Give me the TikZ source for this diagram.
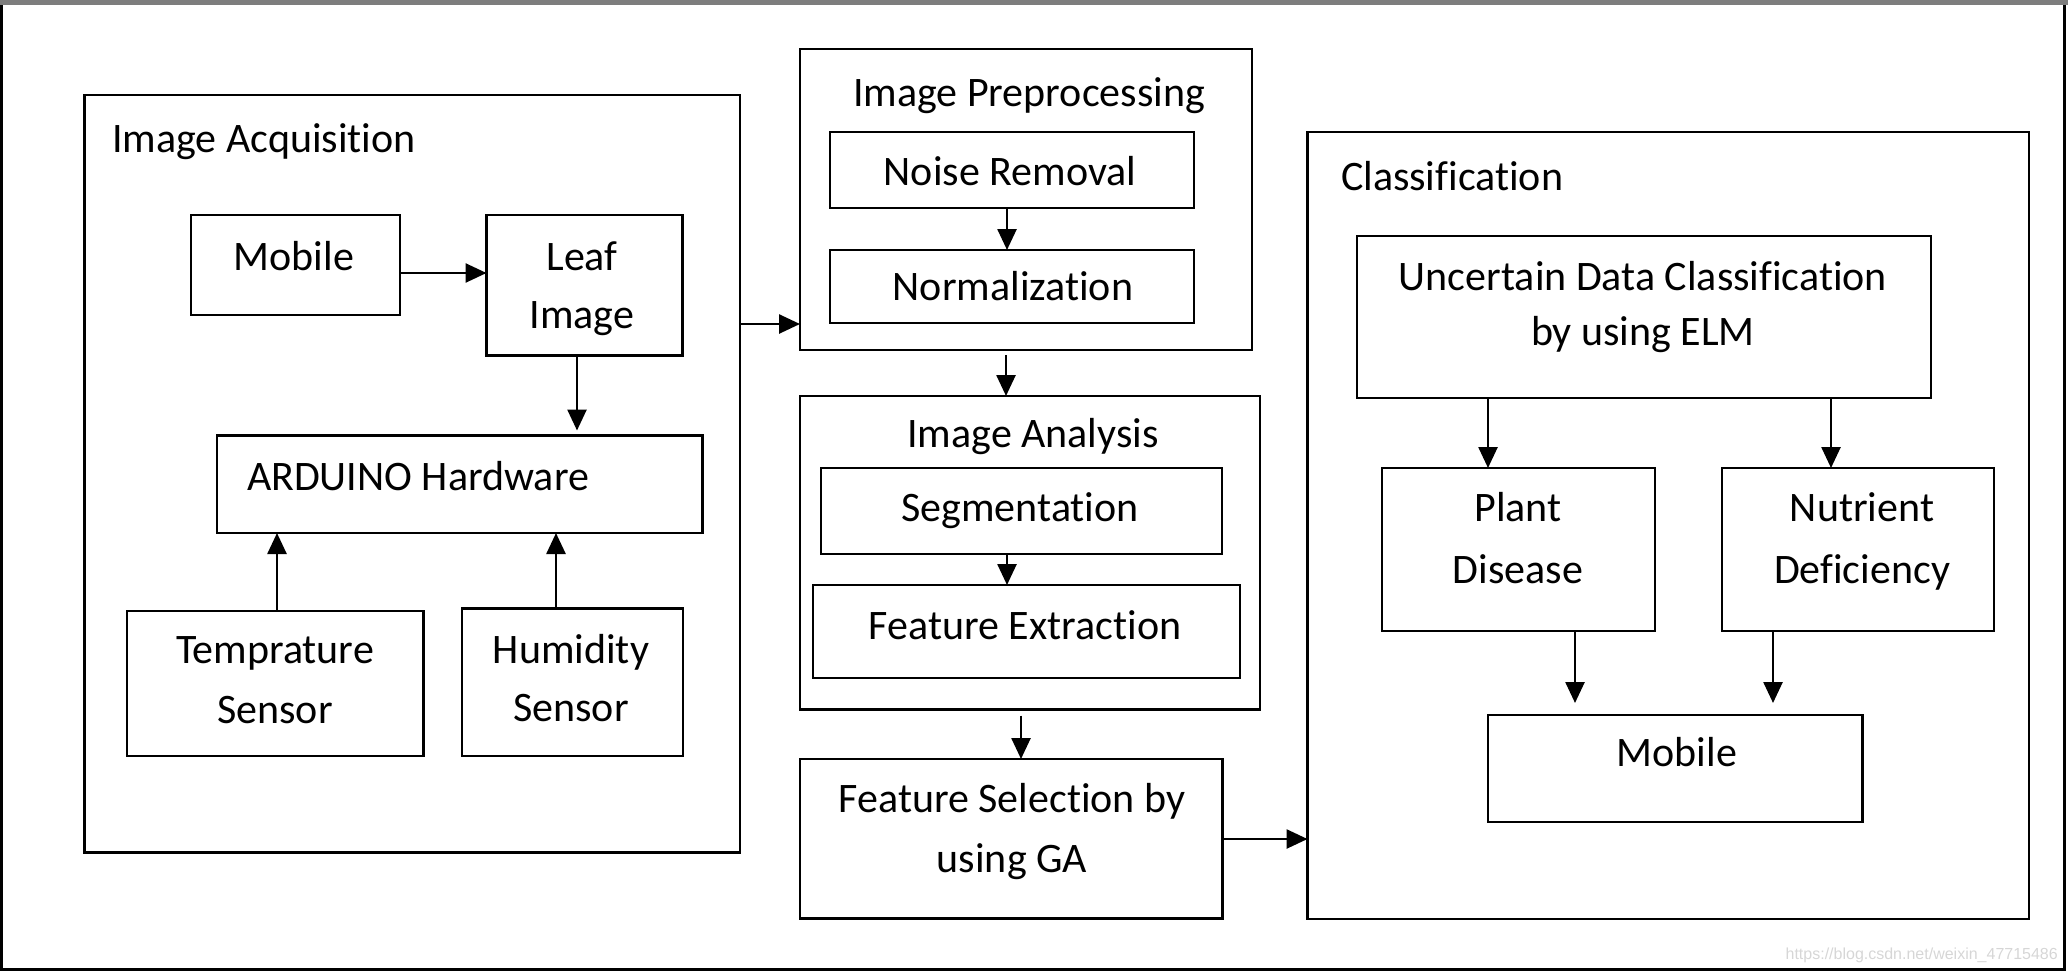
\documentclass[tikz,border=0pt]{standalone}
\usepackage{fontspec}
\setmainfont{Carlito}[Ligatures=NoCommon]
\newfontfamily\wmfont{Liberation Sans}
\usetikzlibrary{arrows.meta,fit}
\definecolor{topgray}{RGB}{125,125,125}
\definecolor{wmgray}{RGB}{214,214,214}
\begin{document}
\begin{tikzpicture}[x=1pt,y=-1pt,
  box/.style={draw=black, line width=2.7pt, inner sep=0pt, outer sep=0pt},
  lbl/.style={inner sep=0pt, outer sep=0pt, anchor=base, font=\fontsize{42pt}{50pt}\selectfont},
  ttl/.style={lbl, anchor=base west},
  arr/.style={line width=2.6pt, -{Triangle[length=21pt,width=19pt]}}]
\useasboundingbox (0,0) rectangle (2068,972);
% outer frame
\fill[topgray] (0,0) rectangle (2068,5);
\draw[line width=3pt] (1.5,5) -- (1.5,969.5) -- (2064,969.5) -- (2064,5);

% Image Acquisition
\node[box, fit={(84.5,95) (740,852.5)}] (acq) {};
\node[box, fit={(191,215) (400,315)}] (mob1) {};
\node[box, fit={(486.5,215) (682.5,355.5)}] (leaf) {};
\node[box, fit={(217,435.5) (702.5,533)}] (ard) {};
\node[box, fit={(127,611) (423.5,756)}] (temp) {};
\node[box, fit={(462,608.5) (683,756)}] (hum) {};

% Preprocessing / analysis / selection
\node[box, fit={(800,49) (1252,350)}] (pre) {};
\node[box, fit={(830,132) (1194,208)}] (noise) {};
\node[box, fit={(830,250) (1194,323)}] (norm) {};
\node[box, fit={(800,396) (1260,709.5)}] (ana) {};
\node[box, fit={(821,468) (1222,554)}] (seg) {};
\node[box, fit={(813,585) (1240,678)}] (fext) {};
\node[box, fit={(800,759) (1222.5,918.5)}] (fsel) {};

% Classification
\node[box, fit={(1307.5,132) (2029,919)}] (cls) {};
\node[box, fit={(1357,236) (1931,398)}] (unc) {};
\node[box, fit={(1382,468) (1655,631)}] (plant) {};
\node[box, fit={(1722,468) (1994,631)}] (nutr) {};
\node[box, fit={(1488,715) (1862.5,822)}] (mob2) {};

% labels
\node[ttl] (tAcq) at (112,152) {Image Acquisition};
\node[lbl] (tMob1) at (294,270) {Mobile};
\node[lbl] (tLeafA) at (582,270) {Leaf};
\node[lbl] (tLeafB) at (582,328) {Image};
\node[ttl] (tArd) at (247,490) {ARDUINO Hardware};
\node[lbl] (tTempA) at (275,663) {Temprature};
\node[lbl] (tTempB) at (275,723) {Sensor};
\node[lbl] (tHumA) at (571,663) {Humidity};
\node[lbl] (tHumB) at (571,721) {Sensor};

\node[lbl] (tPre) at (1029,106) {Image Preprocessing};
\node[lbl] (tNoise) at (1010,185) {Noise Removal};
\node[lbl] (tNorm) at (1013,300) {Normalization};
\node[lbl] (tAna) at (1033,447) {Image Analysis};
\node[lbl] (tSeg) at (1020,521) {Segmentation};
\node[lbl] (tFext) at (1025,639) {Feature Extraction};
\node[lbl] (tFselA) at (1012,812) {Feature Selection by};
\node[lbl] (tFselB) at (1012,872) {using GA};

\node[ttl] (tCls) at (1341,190) {Classification};
\node[lbl] (tUncA) at (1643,290) {Uncertain Data Classification};
\node[lbl] (tUncB) at (1643,345) {by using ELM};
\node[lbl] (tPlantA) at (1518,521) {Plant};
\node[lbl] (tPlantB) at (1518,583) {Disease};
\node[lbl] (tNutrA) at (1862,521) {Nutrient};
\node[lbl] (tNutrB) at (1862,583) {Deficiency};
\node[lbl] (tMob2) at (1677,766) {Mobile};

% connectors
\draw[arr] (mob1.east |- 0,273) -- (leaf.west |- 0,273);
\draw[arr] (acq.east |- 0,324) -- (pre.west |- 0,324);
\draw[arr, shorten >=5pt] (leaf.south -| 577,0) -- (ard.north -| 577,0);
\draw[arr] (temp.north -| 277,0) -- (ard.south -| 277,0);
\draw[arr] (hum.north -| 556,0) -- (ard.south -| 556,0);
\draw[arr] (noise.south -| 1007,0) -- (norm.north -| 1007,0);
\draw[arr, shorten <=5pt] (pre.south -| 1006,0) -- (ana.north -| 1006,0);
\draw[arr] (seg.south -| 1007,0) -- (fext.north -| 1007,0);
\draw[arr, shorten <=6pt] (ana.south -| 1021,0) -- (fsel.north -| 1021,0);
\draw[arr] (fsel.east |- 0,839) -- (cls.west |- 0,839);
\draw[arr] (unc.south -| 1488,0) -- (plant.north -| 1488,0);
\draw[arr] (unc.south -| 1831,0) -- (nutr.north -| 1831,0);
\draw[arr, shorten >=12pt] (plant.south -| 1575,0) -- (mob2.north -| 1575,0);
\draw[arr, shorten >=12pt] (nutr.south -| 1773,0) -- (mob2.north -| 1773,0);

% watermark
\node[anchor=base east, inner sep=0pt, text=wmgray, font=\wmfont\fontsize{16pt}{16pt}\selectfont] (wm) at (2058,959) {https://blog.csdn.net/weixin\_47715486};
\end{tikzpicture}
\end{document}
